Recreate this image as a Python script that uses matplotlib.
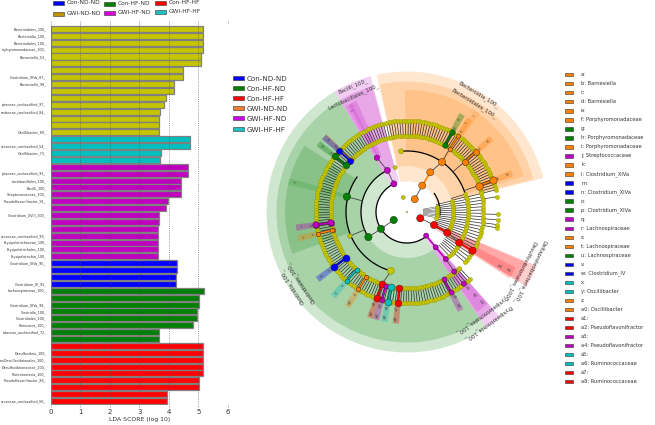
import matplotlib
matplotlib.use('Agg')
import matplotlib.pyplot as plt
from matplotlib.patches import Rectangle
import numpy as np

YEL = '#C4C400'
ORA = '#FF7F00'
GRE = '#007F00'
RED = '#FF0000'
BLU = '#0000FF'
PUR = '#BF00BF'
CYA = '#00BFBF'

# LDA bars, top to bottom
lda_labels = ['Bacteroidetes_100_', 'Bacteroidia_100_', 'Bacteroidales_100_', 'orphyromonadaceae_100_',
              'Barnesiella_53_', '', '', 'Clostridium_XIVa_87_', 'Barnesiella_99_', '', '',
              'piraceae_unclassified_97_', 'radaceae_unclassified_84_', '', '', 'Oscillibacter_89_',
              '', 'occaceae_unclassified_54_', 'Oscillibacter_73_', '',
              '', 'piraceae_unclassified_93_', 'Lactobacillales_100_', 'Bacilli_100_', 'Streptococcaceae_100_',
              'Pseudoflavonifractor_91_', '', 'Clostridium_XVIII_100_', '', '', 'occaceae_unclassified_99_',
              'Erysipelotrichaceae_100_', 'Erysipelotrichales_100_', 'Erysipelotrichia_100_',
              'Clostridium_XIVa_95_', '', '', 'Clostridium_IV_93_',
              'Lachnospiraceae_100_', '', 'Clostridium_XIVa_99_', 'Clostridia_100_', 'Clostridiales_100_',
              'Firmicutes_100_', 'adaceae_unclassified_72_', '',
              '', 'Desulfovibrio_100_', 'nosDesulfovibrionales_100_', 'Desulfovibrionaceae_100_',
              'Proteobacteria_100_', 'Pseudoflavonifractor_86_', '', '', 'occaceae_unclassified_66_']
lda_yellow = [5.15, 5.15, 5.15, 5.15, 5.11, 5.11, 4.47, 4.47, 4.18, 4.18, 3.90, 3.85, 3.71, 3.67, 3.67, 3.67]
lda_cyan = [4.72, 4.72, 3.73, 3.71]
lda_purple = [4.67, 4.67, 4.42, 4.42, 4.42, 3.97, 3.91, 3.66, 3.66, 3.65, 3.65, 3.64, 3.64, 3.64]
lda_blue = [4.28, 4.28, 4.25, 4.25]
lda_green = [5.20, 5.03, 5.03, 4.96, 4.96, 4.84, 3.68, 3.67]
lda_red = [5.16, 5.16, 5.16, 5.16, 5.16, 5.04, 5.04, 3.93, 3.93]

# shaded clades: colour, start, end angle for class, order, family
clade_color = [ORA, PUR, GRE, PUR, RED]
clade_class = [(14, 102.5), (105, 121), (121, 304.4), (304.4, 311.5), (328, 337.5)]
clade_order = [(14.5, 102), (105.5, 121), (121, 304.4), (304.4, 311.5), (328, 337)]
clade_family = [(17, 91), (114.5, 118.5), (147, 200), (305, 311.5), (327, 333)]
clade_name_class = ['Bacteroidia_100_', 'Bacilli_100_', 'Clostridia_100_', 'Erysipelotrichia_100_', 'Deltaproteobacteria_100_']
clade_name_order = ['Bacteroidales_100_', 'Lactobacillales_100_', 'Clostridiales_100_', 'Erysipelotrichales_100_', 'Desulfovibrionales_100_']
name_angle_class = [58.6, 113, 212.8, 306, 334]
name_angle_order = [58, 115, 213.7, 306, 332.5]

# leaves around the tree, degrees
leaf_angles = [14.0, 15.8, 17.5, 19.2, 21.0, 22.8, 24.5, 26.2, 28.0, 29.8, 31.5, 33.2, 35.0, 36.8, 38.5, 40.2,
               42.0, 43.8, 45.5, 47.2, 49.0, 50.8, 52.5, 54.2, 56.0, 57.8, 59.5, 61.2, 63.0, 64.8, 66.5, 68.2,
               70.0, 71.8, 73.5, 75.2, 77.0, 78.8, 80.5, 82.2, 84.0, 85.8, 87.5, 89.2, 91.0, 92.8, 94.5, 96.2,
               98.0, 99.8, 101.5, 103.2, 105.0, 106.8, 108.5, 110.2, 112.0, 113.8, 115.5, 117.2, 119.0, 120.8,
               122.5, 124.2, 126.0, 127.8, 129.5, 131.2, 133.0, 134.8, 136.5, 138.2, 140.0, 141.8, 143.5, 145.2,
               147.0, 148.8, 150.5, 152.2, 154.0, 155.8, 157.5, 159.2, 161.0, 162.8, 164.5, 166.2, 168.0, 169.8,
               171.5, 173.2, 175.0, 176.8, 178.5, 180.2, 182.0, 183.8, 185.5, 187.2, 189.0, 190.8, 192.5, 194.2,
               196.0, 197.8, 199.5, 201.2, 203.0, 204.8, 206.5, 208.2, 210.0, 211.8, 213.5, 215.2, 217.0, 218.8,
               220.5, 222.2, 224.0, 225.8, 227.5, 229.2, 231.0, 232.8, 234.5, 236.2, 238.0, 239.8, 241.5, 243.2,
               245.0, 246.8, 248.5, 250.2, 252.0, 253.8, 255.5, 257.2, 259.0, 260.8, 262.5, 264.2, 266.0, 267.8,
               269.5, 271.2, 273.0, 274.8, 276.5, 278.2, 280.0, 281.8, 283.5, 285.2, 287.0, 288.8, 290.5, 292.2,
               294.0, 295.8, 297.5, 299.2, 301.0, 302.8, 304.5, 306.2, 308.0, 309.8, 311.5, 313.2]
right_r30 = [10, 7, 4, 1, -2, -5, -8, -11]
right_r46 = [14, 11, 8, 5, 2, -1, -4, -7, -10, -13, -16, -19, -22, -25, -28]
right_r61 = [17, 14.5, 12, 9.5, 7, 4.5, 2, -0.5, -3, -5.5, -8, -10.5, -13, -15.5, -18, -20.5, -23, -25.5,
             -28, -30.5, -33, -35.5, -38, -40.5, -43, -46]
right_r76 = [14, 11.5, 9, 6.5, 4, 1.5, -1, -3.5, -6, -8.5, -11, -13.5, -16, -18.5, -21, -23.5, -26, -28.5,
             -31, -33.5, -36, -38.5, -41]
right_r91 = [9.7, -1.5, -5, -8, -10]

# black arcs: radius, start, end
arc_r = [31, 46, 61, 61, 33]
arc_start = [115, 120, 145, 18, -5]
arc_end = [309, 213, 255, 95.6, 34]

# paired nodes on the two outer rings
pair_angle = [20.2, 41.1, 56.0, 60.5, 137.5, 137.9, 142.3, 188.0, 193.7, 217.0, 228.8, 237.8, 250.8, 254.0, 258.2, 264.3, 298.6]
pair_color = [ORA, ORA, ORA, GRE, ORA, BLU, GRE, PUR, ORA, BLU, CYA, ORA, RED, PUR, CYA, RED, PUR]
pair_size = [28, 20, 11, 16, 11, 20, 22, 20, 11, 26, 13, 11, 26, 13, 26, 24, 14]
pair_outer = ['a', 'c', 'e', 'g', 'k', 'm', 'o', 'q', 's', 'v', 'x', 'z', 'a1', 'a3', 'a5', 'a7', 'a9']
pair_inner = ['b', 'd', 'f', 'h', 'l', 'n', 'p', 'r', 't', 'w', 'y', 'a0', 'a2', 'a4', 'a6', 'a8', 'b0']

# remaining big nodes: ring radius, angle
node_r = [15, 30.5, 46, 61, 31, 46, 62, 62, 15.5, 31, 46, 14.7, 30, 45.3, 60.6, 76, 30.4, 45.5, 61, 76, 91.6, 77, 92, 77]
node_a = [59, 60, 59.6, 55, 115, 115.3, 119, 165.7, 211, 212.9, 213, -25.3, -25.7, -27.2, -30.4, -30.6,
          -51, -50.9, -50.5, -51.6, -51.5, 188, 188, 194]
node_c = [ORA, ORA, ORA, ORA, PUR, PUR, PUR, GRE, GRE, GRE, GRE, RED, RED, RED, RED, RED,
          PUR, PUR, PUR, PUR, PUR, PUR, PUR, ORA]
node_s = [26, 26, 26, 26, 20, 20, 16, 28, 28, 28, 28, 28, 28, 28, 28, 28, 14, 14, 14, 14, 14, 20, 20, 10]

# yellow nodes that are bigger than the leaves
ynode_r = [0, 15, 46, 61, 62, 61]
ynode_a = [0, 104.6, 105, 95.6, 202.8, 254.6]
ynode_s = [1, 8, 8, 12, 10, 26]

# single labelled nodes: angle, label radius, text, colour
single_a = [55, 118.5, 165.5, -51.5, -51, -50.5, -30.5, -30.2]
single_r = [117, 117, 117, 97, 107, 117, 107, 117]
single_t = ['i', 'j', 'u', 'b1', 'b2', 'b3', 'b4', 'b5']
single_c = [ORA, PUR, GRE, PUR, PUR, PUR, RED, RED]

# links: r0, a0, r1, a1, colour, width
link_r0 = [15, 30.5, 46, 61, 31, 46, 15.5, 31, 46, 14.7, 30, 45.3, 60.6, 30.4, 45.5, 61, 76, 76, 46, 61]
link_a0 = [59, 60, 59.6, 55, 115, 115.3, 211, 212.9, 166, -25.3, -25.7, -27.2, -30.4, -51, -50.9, -50.5, 20.3, 41.1, 202.8, 255]
link_r1 = [30.5, 46, 61, 76, 46, 62, 31, 46, 62, 30, 45.3, 60.6, 76, 45.5, 61, 76, 61, 61, 62, 76]
link_a1 = [60, 59.6, 55, 56, 115.3, 119, 212.9, 213, 165.7, -25.7, -27.2, -30.4, -30.6, -50.9, -50.5, -51.6, 20.5, 41.2, 202.8, 250.8]
link_c = ['#444444', ORA, '#444444', '#444444', '#444444', '#444444', '#444444', '#444444', '#444444', '#444444',
          RED, '#444444', RED, PUR, PUR, '#444444', '#444444', '#444444', '#444444', '#444444']

legend_groups = ['Con-ND-ND', 'Con-HF-ND', 'Con-HF-HF', 'GWI-ND-ND', 'GWI-HF-ND', 'GWI-HF-HF']
top_legend_colors = [BLU, GRE, RED, '#BF9000', '#DD00DD', '#20C0C0']
mid_legend_colors = [BLU, GRE, RED, '#F08030', '#CC00EE', '#20C0C0']

key_labels = ['a:', 'b: Barnesiella', 'c:', 'd: Barnesiella', 'e:', 'f: Porphyromonadaceae', 'g:',
              'h: Porphyromonadaceae', 'i: Porphyromonadaceae', 'j: Streptococcaceae', 'k:', 'l: Clostridium_XIVa',
              'm:', 'n: Clostridium_XIVa', 'o:', 'p: Clostridium_XIVa', 'q:', 'r: Lachnospiraceae', 's:',
              't: Lachnospiraceae', 'u: Lachnospiraceae', 'v:', 'w: Clostridium_IV', 'x:', 'y: Oscillibacter', 'z:',
              'a0: Oscillibacter', 'a1:', 'a2: Pseudoflavonifractor', 'a3:', 'a4: Pseudoflavonifractor', 'a5:',
              'a6: Ruminococcaceae', 'a7:', 'a8: Ruminococcaceae']
key_colors = [ORA, ORA, ORA, ORA, ORA, ORA, GRE, GRE, ORA, PUR, ORA, ORA, BLU, BLU, GRE, GRE, PUR, PUR, ORA, ORA,
              GRE, BLU, BLU, CYA, CYA, ORA, ORA, RED, RED, PUR, PUR, CYA, CYA, RED, RED]

W, H = 655, 425
fig = plt.figure(figsize=(W / 100, H / 100), dpi=100)

# --- bar panel
ax = fig.add_axes([50.7 / W, 1 - 405 / H, 177 / W, 382.3 / H])
vals = lda_yellow + lda_cyan + lda_purple + lda_blue + lda_green + lda_red
cols = ([YEL] * len(lda_yellow) + [CYA] * len(lda_cyan) + [PUR] * len(lda_purple)
        + [BLU] * len(lda_blue) + [GRE] * len(lda_green) + [RED] * len(lda_red))
y = np.arange(len(vals))
ax.barh(y, vals, height=0.88, color=cols, edgecolor='#808080', linewidth=0.9, zorder=1)
ax.set_xlim(0, 6)
ax.set_ylim(len(vals) - 0.42, -0.91)
ax.set_yticks(y)
ax.set_yticklabels(lda_labels, fontsize=2.4, color='#333333')
ax.tick_params(axis='y', length=0, pad=3.2)
ax.set_xticks(range(7))
ax.tick_params(axis='x', labelsize=5, length=1.5, width=0.4, color='#888888', top=True, pad=1.5, labelcolor='#333333')
ax.grid(axis='x', linestyle=':', linewidth=0.5, color='#555555', zorder=3)
ax.set_axisbelow(False)
for s in ax.spines.values():
    s.set_visible(False)
ax.set_xlabel('LDA SCORE (log 10)', fontsize=4.4, color='#333333', labelpad=1.5)

# --- cladogram
pol = fig.add_axes([257 / W, 1 - 362 / H, 300 / W, 300 / H], projection='polar')
pol.set_rlim(0, 150)
pol.set_axis_off()
pol.patch.set_visible(False)
rad = np.deg2rad

for col, c1, c2, c3 in zip(clade_color, clade_class, clade_order, clade_family):
    for (a0, a1), r0, r1 in ((c1, 30.7, 140.5), (c2, 46, 130.5), (c3, 61, 122)):
        if a0 > 300 or a1 > 300:
            a0, a1 = a0 - 360, a1 - 360
        pol.bar(rad(a0), r1 - r0, width=rad(a1 - a0), bottom=r0, align='edge', color=col, alpha=0.19,
                linewidth=0, zorder=1)

for a, c in zip(pair_angle, pair_color):
    pol.bar(rad(a), 21, width=rad(3.2), bottom=91, color=c, alpha=0.22, linewidth=0, zorder=1.5)
    pol.bar(rad(a), 36, width=rad(3.2), bottom=76, color=c, alpha=0.14, linewidth=0, zorder=1.5)
for a, c in zip(single_a[:3], single_c[:3]):
    pol.bar(rad(a), 61, width=rad(3.2), bottom=61, color=c, alpha=0.15, linewidth=0, zorder=1.5)

line_kw = dict(color='#2a2a2a', linewidth=0.5, zorder=2)
pol.vlines(rad(np.array(leaf_angles)), 76, 91, **line_kw)
pol.vlines(rad(np.array(right_r76)), 61, 76, **line_kw)
pol.vlines(rad(np.array(right_r61)), 46, 61, **line_kw)
pol.vlines(rad(np.array(right_r46)), 30, 46, **line_kw)
pol.vlines(rad(np.array(right_r30)), 16, 30, color='#2a2a2a', linewidth=0.3, zorder=2)
pol.vlines(rad(np.array(right_r91)), 76, 91, **line_kw)

for r, a0, a1 in zip(arc_r, arc_start, arc_end):
    th = rad(np.linspace(a0, a1, 120))
    pol.plot(th, np.full(120, r), color='black', linewidth=0.9, zorder=3)

for r0, a0, r1, a1, c in zip(link_r0, link_a0, link_r1, link_a1, link_c):
    lw = 0.6 if c == '#444444' else 1.2
    pol.plot(rad(np.array([a0, a1])), [r0, r1], color=c, linewidth=lw, zorder=3.2)

leaf_kw = dict(c=YEL, edgecolors='#8f8f00', linewidths=0.25, zorder=4, clip_on=False)
pol.scatter(rad(np.array(leaf_angles)), np.full(len(leaf_angles), 91.5), s=9, **leaf_kw)
pol.scatter(rad(np.array(leaf_angles)), np.full(len(leaf_angles), 76.5), s=9, **leaf_kw)
for angles, r in ((right_r76, 76.5), (right_r61, 61), (right_r46, 46), (right_r30, 30), (right_r91, 91)):
    pol.scatter(rad(np.array(angles)), np.full(len(angles), r), s=9, **leaf_kw)
pol.scatter(rad(np.array(ynode_a)), ynode_r, s=ynode_s, c=YEL, edgecolors='#777700', linewidths=0.3, zorder=4.5)

for a, c, s, lo, li in zip(pair_angle, pair_color, pair_size, pair_outer, pair_inner):
    pol.plot(rad(np.array([a, a])), [76.5, 91.5], color='#333333', linewidth=1.7, zorder=4.6)
    pol.plot(rad(np.array([a, a])), [76.5, 91.5], color=c, linewidth=1.1, zorder=4.7)
    pol.scatter(rad(np.array([a, a])), [76.5, 91.5], s=s, c=c, edgecolors='#222222', linewidths=0.3, zorder=5)
    for lab, r in ((lo, 97), (li, 107)):
        rot = a if np.cos(rad(a)) >= 0 else a - 180
        pol.text(rad(a), r, lab, fontsize=3, rotation=rot, rotation_mode='anchor', ha='center', va='center',
                 color='#444444', zorder=6)
pol.scatter(rad(np.array(node_a)), node_r, s=node_s, c=node_c, edgecolors='#222222', linewidths=0.3, zorder=5)

for a, r, t in zip(single_a, single_r, single_t):
    rot = a if np.cos(rad(a)) >= 0 else a - 180
    pol.text(rad(a), r, t, fontsize=3, rotation=rot, rotation_mode='anchor', ha='center', va='center',
             color='#444444', zorder=6)

for names, angles, r in ((clade_name_class, name_angle_class, 137), (clade_name_order, name_angle_order, 127.5)):
    for n, a in zip(names, angles):
        pol.text(rad(a), r, n, fontsize=3.9, rotation=a - 90, rotation_mode='anchor', ha='center', va='center',
                 color='#333333', zorder=6, clip_on=False)

# --- legends, laid out in pixel coordinates
over = fig.add_axes([0, 0, 1, 1])
over.set_xlim(0, W)
over.set_ylim(H, 0)
over.axis('off')
top_x = [53, 104, 155, 53, 104, 155]
top_y = [3, 3.5, 3, 13.7, 12.5, 12]
for name, c, px, py in zip(legend_groups, top_legend_colors, top_x, top_y):
    over.add_patch(Rectangle((px, py - 2), 11, 4, facecolor=c, edgecolor='#333333', linewidth=0.4))
    over.text(px + 14, py - 0.3, name, fontsize=4.2, va='center', color='#333333')
mid_y = [78, 88, 98.3, 108.3, 118.3, 129]
for name, c, py in zip(legend_groups, mid_legend_colors, mid_y):
    over.add_patch(Rectangle((233, py - 2), 11, 4, facecolor=c, edgecolor='#333333', linewidth=0.4))
    over.text(247, py + 0.5, name, fontsize=5.1, va='center', color='#333333')
for i, (t, c) in enumerate(zip(key_labels, key_colors)):
    py = 74.7 + i * 9.03
    over.add_patch(Rectangle((565, py - 1.7), 8, 3.4, facecolor=c, edgecolor='#333333', linewidth=0.4))
    over.text(581, py, t, fontsize=3.7, va='center', color='#333333')

fig.savefig('out.png', dpi=100)
